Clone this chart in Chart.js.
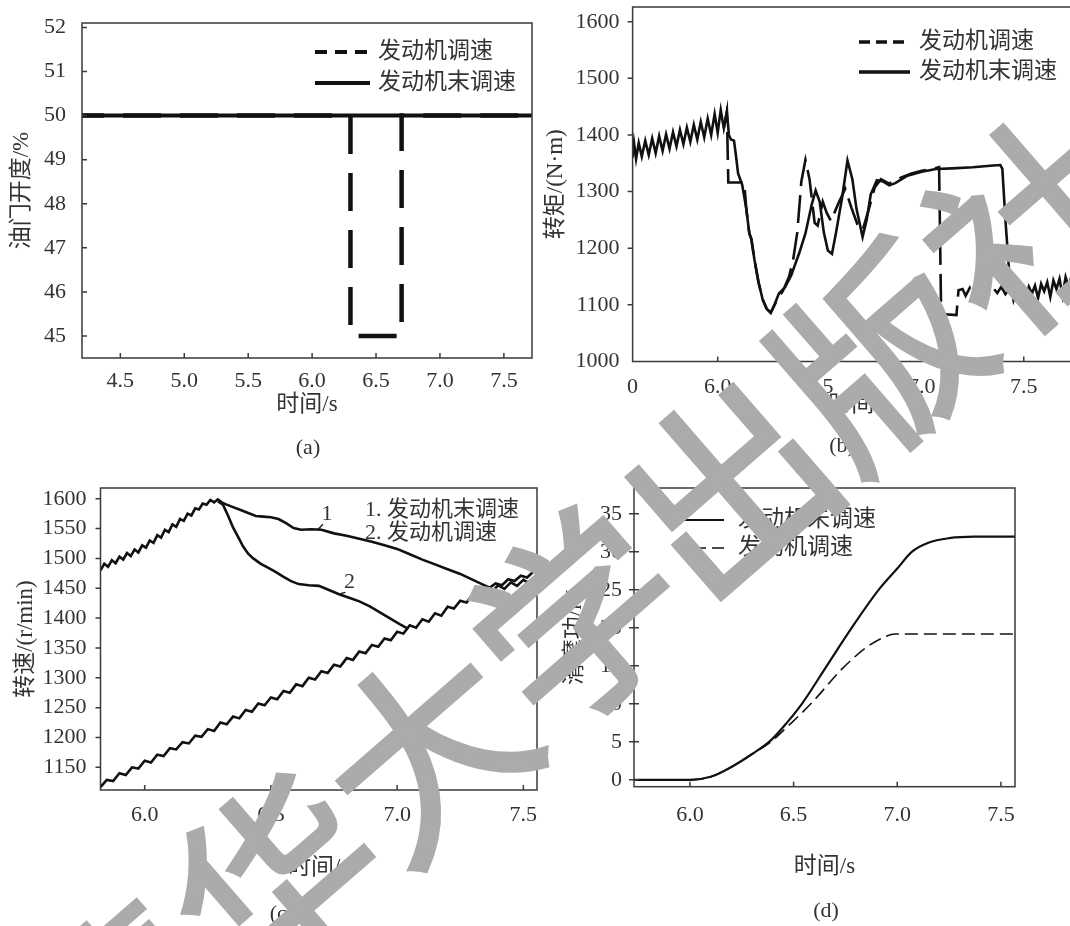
<!DOCTYPE html>
<html lang="zh">
<head>
<meta charset="utf-8">
<title>发动机调速对比</title>
<script src="https://cdn.jsdelivr.net/npm/chart.js@4.4.1/dist/chart.umd.min.js"></script>
<style>
  html, body { margin: 0; padding: 0; background: #fff; }
  body { width: 1070px; height: 926px; position: relative; overflow: hidden; }
  canvas { position: absolute; }
  .cap { position: absolute; transform: translate(-50%, -50%); font: 22px "Liberation Serif", serif; color: #333; }
  .mark {
    position: absolute; left: 570px; top: 610px;
    transform: translate(-50%, -50%) rotate(-41deg);
    font: 400 200px "Noto Sans CJK SC", sans-serif; color: #ababab;
    -webkit-text-stroke: 4px #ababab;
    letter-spacing: 0; line-height: 1; white-space: nowrap; pointer-events: none;
  }
</style>
</head>
<body>
<canvas id="chartA" width="540" height="470" style="left:0;top:0"></canvas>
<canvas id="chartB" width="560" height="470" style="left:540px;top:0"></canvas>
<canvas id="chartC" width="540" height="456" style="left:0;top:470px"></canvas>
<canvas id="chartD" width="530" height="456" style="left:540px;top:470px"></canvas>
<div class="cap" style="left:308px;top:447px">(a)</div>
<div class="cap" style="left:842px;top:445px">(b)</div>
<div class="cap" style="left:282px;top:913px">(c)</div>
<div class="cap" style="left:826px;top:910px">(d)</div>
<div class="mark">清华大学出版社</div>
<script>
// ---- (a) throttle opening ----
const aTicksX = [4.5, 5.0, 5.5, 6.0, 6.5, 7.0, 7.5];
const aTicksY = [45, 46, 47, 48, 49, 50, 51, 52];
const throttleUngoverned = [[4.2, 50], [7.72, 50]];
const throttleGoverned = [[4.2, 50], [6.3, 50], [6.3, 45], [6.7, 45], [6.7, 50], [7.72, 50]];

// ---- (b) torque ----
const bTicksX = [5.583, 6.0, 6.5, 7.0, 7.5];
const bTicksY = [1000, 1100, 1200, 1300, 1400, 1500, 1600];
const torqueUngoverned = [
  [5.583,1360],[5.59,1386],[5.60,1358],[5.613,1386],[5.628,1362],[5.645,1390],[5.662,1365],[5.679,1394],
  [5.696,1368],[5.713,1398],[5.73,1372],[5.747,1401],[5.764,1376],[5.781,1405],[5.798,1380],[5.815,1409],
  [5.832,1384],[5.849,1413],[5.866,1388],[5.883,1418],[5.90,1392],[5.917,1423],[5.934,1396],[5.951,1429],
  [5.968,1400],[5.985,1437],[6.0,1404],[6.015,1444],[6.03,1412],[6.045,1441],[6.055,1400],[6.065,1392],
  [6.08,1390],[6.09,1362],[6.10,1332],[6.12,1312],[6.14,1270],[6.155,1226],[6.165,1216],[6.18,1180],
  [6.20,1140],[6.22,1110],[6.24,1093],[6.26,1086],[6.28,1102],[6.30,1120],[6.33,1131],[6.36,1152],
  [6.40,1192],[6.43,1226],[6.46,1276],[6.48,1302],[6.50,1282],[6.52,1228],[6.54,1196],[6.56,1190],
  [6.58,1228],[6.61,1290],[6.636,1355],[6.66,1322],[6.68,1270],[6.71,1220],[6.73,1250],[6.75,1295],
  [6.78,1320],[6.81,1318],[6.84,1311],[6.87,1315],[6.93,1328],[7.0,1335],[7.07,1340],[7.15,1341],
  [7.25,1343],[7.35,1346],[7.385,1347],[7.395,1340],[7.41,1250],[7.43,1150],[7.45,1108],
  [7.465,1124],[7.48,1118],[7.495,1130],[7.51,1114],[7.525,1132],[7.54,1120],[7.555,1134],[7.57,1112],
  [7.585,1137],[7.60,1124],[7.615,1140],[7.63,1114],[7.645,1143],[7.66,1128],[7.675,1146],[7.69,1116],
  [7.705,1149],[7.72,1132],[7.735,1152],[7.75,1118],[7.765,1155],[7.78,1136],[7.80,1158]
];
const torqueGoverned = [
  [6.03,1412],[6.045,1441],[6.052,1316],[6.13,1316],[6.14,1270],[6.155,1226],[6.165,1216],[6.18,1180],
  [6.20,1140],[6.22,1110],[6.24,1093],[6.26,1086],[6.29,1108],[6.32,1125],[6.35,1150],[6.37,1180],
  [6.39,1228],[6.41,1318],[6.43,1356],[6.45,1322],[6.475,1245],[6.49,1240],[6.515,1282],[6.535,1262],
  [6.555,1248],[6.59,1278],[6.625,1305],[6.655,1272],[6.685,1242],[6.71,1232],[6.74,1268],[6.77,1308],
  [6.80,1322],[6.84,1314],[6.90,1325],[6.95,1332],[7.0,1337],[7.05,1340],[7.085,1343],[7.095,1084],
  [7.17,1082],[7.18,1126],[7.20,1128],[7.215,1116],[7.235,1130],[7.25,1118],[7.27,1129],[7.29,1120],
  [7.31,1131],[7.33,1118],[7.35,1130],[7.37,1121],[7.39,1132],[7.41,1119],[7.43,1128],[7.45,1115],[7.46,1122]
];

// ---- (c) speed ----
const cTicksX = [6.0, 6.5, 7.0, 7.5];
const cTicksY = [1150, 1200, 1250, 1300, 1350, 1400, 1450, 1500, 1550, 1600];
const speedUngoverned = [
  [5.825,1480],[5.84,1491],[5.855,1486],[5.87,1497],[5.885,1492],[5.90,1503],[5.915,1498],[5.93,1509],
  [5.945,1504],[5.96,1515],[5.975,1510],[5.99,1522],[6.005,1518],[6.02,1530],[6.035,1526],[6.05,1539],
  [6.065,1535],[6.08,1548],[6.095,1544],[6.11,1557],[6.125,1553],[6.14,1566],[6.155,1563],[6.17,1575],
  [6.185,1572],[6.20,1584],[6.215,1582],[6.23,1592],[6.245,1590],[6.26,1598],[6.275,1594],[6.29,1599],
  [6.305,1594],[6.32,1591],[6.35,1586],[6.38,1581],[6.41,1576],[6.44,1571],[6.47,1570],[6.50,1569],
  [6.53,1566],[6.56,1559],[6.59,1551],[6.62,1548],[6.66,1549],[6.70,1548],[6.75,1542],[6.80,1538],
  [6.85,1533],[6.90,1528],[6.95,1522],[7.0,1516],[7.05,1507],[7.10,1498],[7.15,1490],[7.20,1482],
  [7.25,1474],[7.30,1464],[7.34,1456],[7.367,1451],[7.39,1458],[7.415,1455],[7.44,1465],[7.465,1462],
  [7.49,1471],[7.515,1468],[7.54,1478],[7.555,1476]
];
const speedGoverned = [
  [6.29,1596],[6.31,1590],[6.33,1572],[6.35,1552],[6.37,1536],[6.39,1520],[6.41,1508],[6.43,1500],
  [6.46,1491],[6.49,1484],[6.52,1477],[6.55,1469],[6.58,1462],[6.61,1457],[6.65,1455],[6.69,1454],
  [6.73,1447],[6.77,1440],[6.81,1434],[6.85,1428],[6.89,1420],[6.93,1410],[6.97,1400],[7.01,1390],[7.044,1382]
];
const speedDriven = [
  [5.825,1117],[5.85,1129],[5.875,1127],[5.90,1140],[5.925,1137],[5.95,1150],[5.975,1148],[6.0,1161],
  [6.025,1158],[6.05,1171],[6.075,1169],[6.10,1182],[6.125,1180],[6.15,1192],[6.175,1190],[6.20,1203],
  [6.225,1201],[6.25,1214],[6.275,1211],[6.30,1225],[6.325,1222],[6.35,1235],[6.375,1232],[6.40,1246],
  [6.425,1243],[6.45,1257],[6.475,1254],[6.50,1267],[6.525,1264],[6.55,1278],[6.575,1275],[6.60,1289],
  [6.625,1286],[6.65,1300],[6.675,1297],[6.70,1311],[6.725,1308],[6.75,1322],[6.775,1319],[6.80,1333],
  [6.825,1330],[6.85,1344],[6.875,1341],[6.90,1355],[6.925,1352],[6.95,1366],[6.975,1363],[7.0,1377],
  [7.025,1374],[7.05,1388],[7.075,1384],[7.10,1398],[7.125,1394],[7.15,1408],[7.175,1404],[7.20,1419],
  [7.225,1416],[7.25,1429],[7.275,1426],[7.30,1440],[7.325,1436],[7.35,1449],[7.375,1444],[7.40,1455],
  [7.425,1449],[7.45,1460],[7.475,1454],[7.50,1464],[7.525,1458],[7.55,1466]
];
const speedTags = [
  { text: '1', at: [6.722, 1574], to: [6.685, 1548] },
  { text: '2', at: [6.811, 1460], to: [6.775, 1441] }
];

// ---- (d) slip work ----
const dTicksX = [6.0, 6.5, 7.0, 7.5];
const dTicksY = [0, 5, 10, 15, 20, 25, 30, 35];
const slipUngoverned = [
  [5.73,0],[6.0,0],[6.1,0.4],[6.2,1.7],[6.3,3.4],[6.39,5.2],[6.47,7.6],[6.54,10],[6.66,15],
  [6.78,20],[6.91,25],[7.0,27.8],[7.07,30],[7.15,31.2],[7.25,31.8],[7.37,32],[7.568,32]
];
const slipGoverned = [
  [5.73,0],[6.0,0],[6.1,0.4],[6.2,1.7],[6.3,3.4],[6.39,5.0],[6.47,7.0],[6.59,10.2],[6.73,14.5],
  [6.85,17.4],[6.93,18.7],[6.99,19.2],[7.568,19.2]
];

const labelGoverned = '发动机调速';
const labelUngoverned = '发动机末调速';
const labelUngovernedD = '发动机未调速';

const ink = '#111';
const textColor = '#333';
const tickFont = { family: '"Liberation Serif", serif', size: 22 };
const titleFont = { family: '"Liberation Serif", "Noto Sans CJK SC", serif', size: 23 };
const legendFont = '23px "Liberation Serif", "Noto Sans CJK SC", serif';

// axes box, inward ticks, legend and curve tags
const frame = {
  id: 'frame',
  afterDatasetsDraw(chart, args, o) {
    const { ctx, chartArea: a } = chart;
    const sx = chart.scales.x, sy = chart.scales.y;
    ctx.save();
    ctx.setLineDash([]);
    ctx.strokeStyle = '#3a3a3a';
    ctx.lineWidth = 1.5;
    ctx.strokeRect(a.left, a.top, a.right - a.left, a.bottom - a.top);
    ctx.beginPath();
    sx.ticks.forEach(t => {
      const px = sx.getPixelForValue(t.value);
      if (px <= a.left + 1) return;
      ctx.moveTo(px, a.bottom);
      ctx.lineTo(px, a.bottom - 5);
    });
    sy.ticks.forEach(t => {
      const py = sy.getPixelForValue(t.value);
      if (py >= a.bottom - 1) return;
      const from = o.yTicks === 'in' ? a.left : a.left - 5;
      const to = o.yTicks === 'out' ? a.left : a.left + 5;
      ctx.moveTo(from, py);
      ctx.lineTo(to, py);
    });
    ctx.stroke();

    if (o.legend) {
      const L = o.legend;
      ctx.font = L.font || legendFont;
      ctx.fillStyle = textColor;
      ctx.textBaseline = 'middle';
      ctx.textAlign = 'left';
      L.rows.forEach((r, i) => {
        const yy = L.y + i * L.gap;
        if (r.width) {
          ctx.strokeStyle = ink;
          ctx.lineWidth = r.width;
          ctx.setLineDash(r.dash || []);
          ctx.beginPath();
          ctx.moveTo(L.x, yy);
          ctx.lineTo(L.x + L.len, yy);
          ctx.stroke();
          ctx.setLineDash([]);
        }
        ctx.fillText(r.text, L.tx, yy);
      });
    }

    (o.tags || []).forEach(tg => {
      const lx = sx.getPixelForValue(tg.at[0]), ly = sy.getPixelForValue(tg.at[1]);
      const cx = sx.getPixelForValue(tg.to[0]), cy = sy.getPixelForValue(tg.to[1]);
      ctx.font = '22px "Liberation Serif", serif';
      ctx.fillStyle = textColor;
      ctx.textAlign = 'center';
      ctx.textBaseline = 'middle';
      ctx.fillText(tg.text, lx, ly);
      ctx.strokeStyle = ink;
      ctx.lineWidth = 1.2;
      ctx.beginPath();
      ctx.moveTo(lx - 4, ly + 10);
      ctx.lineTo(cx, cy);
      ctx.stroke();
    });
    ctx.restore();
  }
};

function fixBox(size, horizontal) {
  return function (scale) {
    if (horizontal) scale.height = size; else scale.width = size;
    scale.paddingLeft = scale.paddingRight = scale.paddingTop = scale.paddingBottom = 0;
  };
}

function xAxis(min, max, values, fmt, pad, boxH, titlePad) {
  return {
    type: 'linear', min, max,
    afterBuildTicks: s => { s.ticks = values.map(v => ({ value: v })); },
    afterFit: fixBox(boxH, true),
    grid: { display: false }, border: { display: false },
    ticks: { autoSkip: false, maxRotation: 0, padding: pad, color: textColor, font: tickFont, callback: fmt },
    title: { display: true, text: '时间/s', color: textColor, font: titleFont, padding: { top: 0, bottom: titlePad } }
  };
}

function yAxis(min, max, values, fmt, pad, boxW, title, titlePad) {
  return {
    type: 'linear', min, max,
    afterBuildTicks: s => { s.ticks = values.map(v => ({ value: v })); },
    afterFit: fixBox(boxW, false),
    grid: { display: false }, border: { display: false },
    ticks: { autoSkip: false, padding: pad, color: textColor, font: tickFont, callback: fmt },
    title: { display: true, text: title, color: textColor, font: titleFont, padding: { top: titlePad, bottom: 0 } }
  };
}

function line(pairs, width, dash, extra) {
  return Object.assign({
    data: pairs.map(([x, y]) => ({ x, y })),
    borderColor: ink, borderWidth: width, borderDash: dash || [],
    pointRadius: 0, fill: false, tension: 0
  }, extra || {});
}

function baseOptions(padding, scales, frameOpts) {
  return {
    responsive: false, animation: false, devicePixelRatio: 1, events: [],
    layout: { padding },
    scales,
    plugins: { legend: { display: false }, tooltip: { enabled: false }, frame: frameOpts }
  };
}

const fix1 = v => v.toFixed(1);
const asInt = v => String(v);

new Chart(document.getElementById('chartA'), {
  type: 'line',
  data: { datasets: [
    line(throttleUngoverned, 4),
    line(throttleGoverned, 4.5, [38, 19], { borderDashOffset: 16 })
  ] },
  options: baseOptions({ left: 0, top: 23, right: 8, bottom: 0 }, {
    x: xAxis(4.2, 7.72, aTicksX, fix1, 2, 112, 51),
    y: yAxis(44.5, 52.1, aTicksY, asInt, 8, 82, '油门开度/%', 8)
  }, {
    yTicks: 'in',
    legend: { x: 315, len: 55, tx: 378, y: 52, gap: 31, rows: [
      { text: labelGoverned, width: 4, dash: [12, 8] },
      { text: labelUngoverned, width: 4 }
    ] }
  }),
  plugins: [frame]
});

new Chart(document.getElementById('chartB'), {
  type: 'line',
  data: { datasets: [
    line(torqueUngoverned, 2.6),
    line(torqueGoverned, 2.6, [28, 9])
  ] },
  options: baseOptions({ left: 0, top: 7, right: 15, bottom: 0 }, {
    x: xAxis(5.583, 7.8, bTicksX, v => (v < 5.9 ? '0' : v.toFixed(1)), 5, 108.5, 51),
    y: yAxis(1000, 1626, bTicksY, asInt, 5, 92.6, '转矩/(N·m)', 2)
  }, {
    yTicks: 'out',
    legend: { x: 319, len: 51, tx: 379, y: 42, gap: 30, rows: [
      { text: labelGoverned, width: 3.5, dash: [11, 6] },
      { text: labelUngoverned, width: 3.5 }
    ] }
  }),
  plugins: [frame]
});

new Chart(document.getElementById('chartC'), {
  type: 'line',
  data: { datasets: [
    line(speedUngoverned, 2.6),
    line(speedGoverned, 2.6),
    line(speedDriven, 2.6)
  ] },
  options: baseOptions({ left: 0, top: 18, right: 3, bottom: 0 }, {
    x: xAxis(5.825, 7.554, cTicksX, fix1, 4, 136, 44),
    y: yAxis(1112, 1618, cTicksY, asInt, 6, 100.5, '转速/(r/min)', 12)
  }, {
    yTicks: 'out',
    legend: { font: '22px "Liberation Serif", "Noto Sans CJK SC", serif', x: 0, len: 0, tx: 365, y: 40, gap: 23, rows: [
      { text: '1. ' + labelUngoverned },
      { text: '2. ' + labelGoverned }
    ] },
    tags: speedTags
  }),
  plugins: [frame]
});

new Chart(document.getElementById('chartD'), {
  type: 'line',
  data: { datasets: [
    line(slipUngoverned, 2.2, null, { cubicInterpolationMode: 'monotone' }),
    line(slipGoverned, 1.6, [13, 6], { cubicInterpolationMode: 'monotone' })
  ] },
  options: baseOptions({ left: 0, top: 18, right: 55, bottom: 0 }, {
    x: xAxis(5.73, 7.568, dTicksX, fix1, 7, 139.3, 45),
    y: yAxis(-0.9, 38.4, dTicksY, asInt, 4, 94, '滑摩功/kJ', 21)
  }, {
    yTicks: 'both',
    legend: { x: 134, len: 50, tx: 198, y: 50, gap: 28, rows: [
      { text: labelUngovernedD, width: 2 },
      { text: labelGoverned, width: 1.6, dash: [13, 6] }
    ] }
  }),
  plugins: [frame]
});
</script>
</body>
</html>
